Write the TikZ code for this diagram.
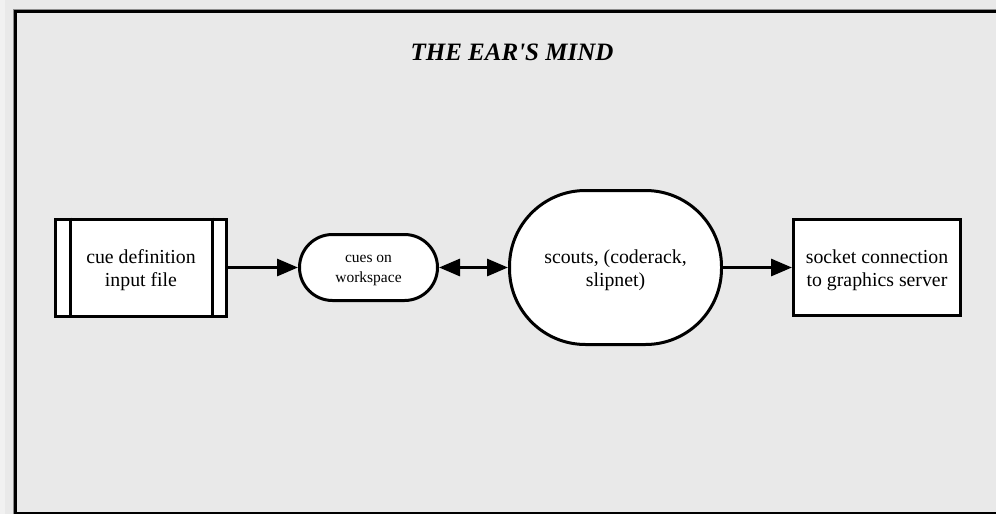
\documentclass[tikz,border=0pt]{standalone}
\usepackage{fontspec}
\setmainfont{Liberation Serif}
\newfontfamily\titlefont[Ligatures=ResetAll]{Liberation Serif}
\usetikzlibrary{arrows.meta}
\definecolor{panel}{HTML}{E9E9E9}
\definecolor{margin}{HTML}{F1F1F1}
\definecolor{rule}{HTML}{8C8C8C}
\definecolor{baseline}{HTML}{6E6E6E}
\begin{document}
\begin{tikzpicture}[x=1pt,y=-1pt,
  box/.style={draw=black, line width=3pt, fill=white, inner sep=0pt},
  filebox/.style={box, minimum width=171pt, minimum height=97pt},
  plainbox/.style={box, minimum width=167pt, minimum height=96pt},
  pill/.style={box, minimum width=138pt, minimum height=66pt, rounded corners=33pt},
  blob/.style={box, minimum width=212pt, minimum height=154pt, rounded corners=76pt},
  caption/.style={text=black, align=center, inner sep=0pt, font=\fontsize{19.8}{23}\selectfont},
  smallcaption/.style={caption, font=\fontsize{15.5}{20}\selectfont},
  flow/.style={line width=3pt, -{Triangle[length=21pt,width=17pt]}},
  twoway/.style={line width=3pt, {Triangle[length=21pt,width=17pt]}-{Triangle[length=21pt,width=17pt]}}
]
% page and panel
\fill[panel] (0,0) rectangle (996,514);
\useasboundingbox (0,0) rectangle (996,514);
\fill[margin] (0,0) rectangle (5,514);
\draw[rule, line width=1pt] (13,514) -- (13,9.5) -- (996,9.5);
\draw[black, line width=3pt] (15.5,514) -- (15.5,11.5) -- (996,11.5);
\draw[baseline, line width=1.6pt] (15,513.2) -- (996,513.2);

% title
\node[anchor=base, font=\titlefont\fontsize{25}{30}\selectfont\bfseries\itshape] (title) at (512,60) {THE EAR'S MIND};

% shapes
\node[filebox] (input) at (141,267.5) {};
\draw[line width=3pt] ([xshift=16pt]input.north west) -- ([xshift=16pt]input.south west);
\draw[line width=3pt] ([xshift=-16pt]input.north east) -- ([xshift=-16pt]input.south east);
\node[pill] (cues) at (368.5,267.5) {};
\node[blob] (scouts) at (615.5,267.5) {};
\node[plainbox] (socket) at (877,267.5) {};

% captions
\node[caption] (input-text) at ([yshift=-2.5pt]input.center) {cue definition\\input file};
\node[smallcaption] (cues-text) at ([yshift=-2.5pt]cues.center) {cues on\\workspace};
\node[caption] (scouts-text) at ([yshift=-2.5pt]scouts.center) {scouts, (coderack,\\slipnet)};
\node[caption] (socket-text) at ([yshift=-2.5pt]socket.center) {socket connection\\to graphics server};

% connectors
\draw[flow] (input.east) -- (cues.west);
\draw[twoway] (cues.east) -- (scouts.west);
\draw[flow] (scouts.east) -- (socket.west);
\end{tikzpicture}
\end{document}
